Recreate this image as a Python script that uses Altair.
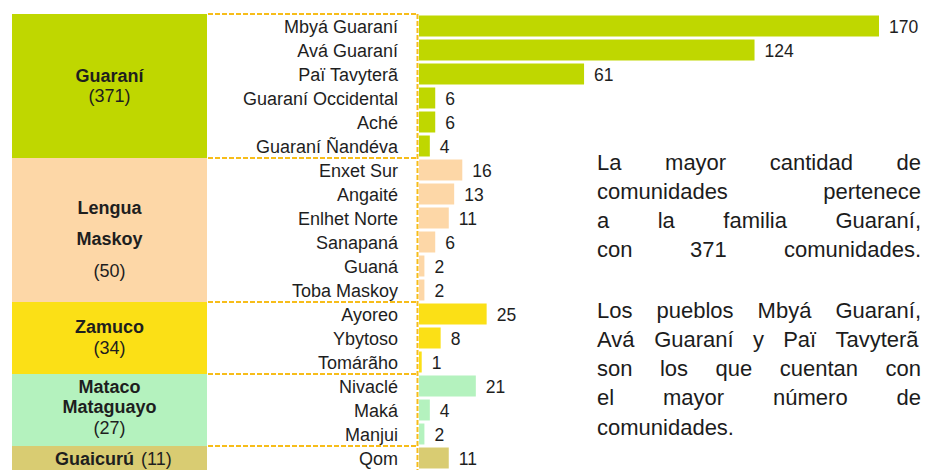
import altair as alt
import pandas as pd

# ---------------- data ----------------
families = ["Guaraní", "Lengua Maskoy", "Zamuco", "Mataco Mataguayo", "Guaicurú"]
family_totals = [371, 50, 34, 27, 11]
family_sizes = [6, 6, 3, 3, 1]

peoples = [
    "Mbyá Guaraní", "Avá Guaraní", "Paï Tavyterã", "Guaraní Occidental", "Aché", "Guaraní Ñandéva",
    "Enxet Sur", "Angaité", "Enlhet Norte", "Sanapaná", "Guaná", "Toba Maskoy",
    "Ayoreo", "Ybytoso", "Tomárãho",
    "Nivaclé", "Maká", "Manjui",
    "Qom",
]
communities = [170, 124, 61, 6, 6, 4, 16, 13, 11, 6, 2, 2, 25, 8, 1, 21, 4, 2, 11]

note1_lines = [
    "La mayor cantidad de",
    "comunidades pertenece",
    "a la familia Guaraní,",
    "con 371 comunidades.",
]
note2_lines = [
    "Los pueblos Mbyá Guaraní,",
    "Avá Guaraní y Paï Tavyterã",
    "son los que cuentan con",
    "el mayor número de",
    "comunidades.",
]

# ---------------- style / layout ----------------
family_colors = ["#BFD700", "#FDD7A7", "#FBE016", "#B4F2BE", "#D9CC72"]
DASH_COLOR = "#F7BD1A"
TEXT = "#1e1e1e"
FONT = "Liberation Sans"
W, H = 918, 462
ROW_RANGE = [6, 462]
BLOCK_X = (4, 199)
LABEL_X = 390
BAR_RANGE = [411, 871]
DASH_X = (200, 409.5)
FAM_CENTER_X = 101.5
# pixel offsets of each text line (name lines..., count) from block centre
FAM_LINE_DY = {
    "Guaraní": [-9, 11],
    "Lengua Maskoy": [-21, 10, 42],
    "Zamuco": [-10, 11],
    "Mataco Mataguayo": [-22, -2, 19],
}
INLINE_FAMILY = "Guaicurú"
INLINE_SPLIT_X = (126, 133)
INLINE_DY = 2
NOTE_SIZE = 22
NOTE_X = (589, 913)
NOTE1_Y = [155, 184, 213, 242]
NOTE2_Y = [303, 332, 361, 390, 420]

# Arial / Liberation Sans advance widths (1/1000 em)
AW = {" ": 278, ",": 278, ".": 278}
AW.update({d: 556 for d in "0123456789"})
AW.update(dict(zip("ABCDEFGHIJKLMNOPQRSTUVWXYZ",
                   [667, 667, 722, 722, 667, 611, 778, 722, 278, 500, 667, 556, 833,
                    722, 778, 667, 778, 722, 667, 611, 722, 667, 944, 667, 667, 611])))
AW.update(dict(zip("abcdefghijklmnopqrstuvwxyz",
                   [556, 556, 500, 556, 556, 278, 556, 556, 222, 222, 500, 222, 833,
                    556, 556, 556, 556, 333, 500, 278, 556, 500, 722, 500, 500, 500])))
AW.update({"á": 556, "é": 556, "í": 278, "ó": 556, "ú": 556, "ã": 556, "ï": 278, "ñ": 556})


def tw(s, size):
    return sum(AW.get(c, 556) for c in s) / 1000.0 * size


# ---------------- tables ----------------
people_family = []
for f, k in zip(families, family_sizes):
    people_family += [f] * k
df = pd.DataFrame({"people": peoples, "n": communities, "family": people_family})

starts = []
acc = 0
for k in family_sizes:
    starts.append(acc)
    acc += k
n_rows = len(peoples)
step = (ROW_RANGE[1] - ROW_RANGE[0]) / n_rows

fam_rows = []
inline_rows = []
for f, tot, s, k in zip(families, family_totals, starts, family_sizes):
    centre = s + k / 2.0
    if f == INLINE_FAMILY:
        inline_rows.append({"name": f, "count": f"({tot})", "yrow": centre + INLINE_DY / step})
        continue
    lines = f.split(" ")
    dys = FAM_LINE_DY[f]
    for ln, dy in zip(lines, dys[:-1]):
        fam_rows.append({"text": ln, "bold": True, "yrow": centre + dy / step})
    fam_rows.append({"text": f"({tot})", "bold": False, "yrow": centre + dys[-1] / step})
fam_df = pd.DataFrame(fam_rows)
inline_df = pd.DataFrame(inline_rows)
bound_df = pd.DataFrame({"b": starts})

words = []
def add_par(lines, ys, justify_last):
    for i, (ln, y) in enumerate(zip(lines, ys)):
        ws = ln.split(" ")
        widths = [tw(w, NOTE_SIZE) for w in ws]
        last = i == len(lines) - 1
        if len(ws) > 1 and (justify_last or not last):
            gap = (NOTE_X[1] - NOTE_X[0] - sum(widths)) / (len(ws) - 1)
        else:
            gap = tw(" ", NOTE_SIZE)
        x = NOTE_X[0]
        for w, wd in zip(ws, widths):
            words.append({"w": w, "px": x, "py": y})
            x += wd + gap
add_par(note1_lines, NOTE1_Y, True)
add_par(note2_lines, NOTE2_Y, False)
words_df = pd.DataFrame(words)

# ---------------- encodings ----------------
y_band = alt.Y("people:N", sort=peoples,
               scale=alt.Scale(domain=peoples, range=ROW_RANGE, paddingInner=0, paddingOuter=0),
               axis=None)
y_band_bar = alt.Y("people:N", sort=peoples,
                   scale=alt.Scale(domain=peoples, range=ROW_RANGE, paddingInner=0.125, paddingOuter=0.0625),
                   axis=None)
color = alt.Color("family:N", scale=alt.Scale(domain=families, range=family_colors), legend=None)
x_val = alt.X("n:Q", scale=alt.Scale(domain=[0, 170], range=BAR_RANGE, nice=False, zero=True), axis=None)
y_rowq = lambda f: alt.Y(f, scale=alt.Scale(domain=[0, n_rows], range=ROW_RANGE, nice=False, zero=False), axis=None)

blocks = alt.Chart(df).mark_rect().encode(
    x=alt.value(BLOCK_X[0]), x2=alt.value(BLOCK_X[1]), y=y_band, color=color)

dash_h = alt.Chart(bound_df).mark_rule(color=DASH_COLOR, strokeWidth=2, strokeDash=[5, 2]).encode(
    x=alt.value(DASH_X[0]), x2=alt.value(DASH_X[1]), y=y_rowq("b:Q"))

dash_v = alt.Chart(pd.DataFrame({"a": [0]})).mark_rule(color=DASH_COLOR, strokeWidth=2, strokeDash=[5, 2]).encode(
    x=alt.value(DASH_X[1]), y=alt.value(ROW_RANGE[0]), y2=alt.value(ROW_RANGE[1]))

labels = alt.Chart(df).mark_text(align="right", baseline="middle", dy=2, font=FONT, fontSize=18, color=TEXT).encode(
    x=alt.value(LABEL_X), y=y_band, text="people:N")

bars = alt.Chart(df).mark_bar().encode(x=x_val, y=y_band_bar, color=color)

values = alt.Chart(df).mark_text(align="left", baseline="middle", dx=10, dy=2, font=FONT, fontSize=17.5, color=TEXT).encode(
    x=x_val, y=y_band, text="n:Q")

fam_bold = alt.Chart(fam_df).transform_filter("datum.bold").mark_text(
    align="center", baseline="middle", font=FONT, fontSize=18, fontWeight="bold", color=TEXT).encode(
    x=alt.value(FAM_CENTER_X), y=y_rowq("yrow:Q"), text="text:N")
fam_reg = alt.Chart(fam_df).transform_filter("!datum.bold").mark_text(
    align="center", baseline="middle", font=FONT, fontSize=18, color=TEXT).encode(
    x=alt.value(FAM_CENTER_X), y=y_rowq("yrow:Q"), text="text:N")
inl_bold = alt.Chart(inline_df).mark_text(
    align="right", baseline="middle", font=FONT, fontSize=18, fontWeight="bold", color=TEXT).encode(
    x=alt.value(INLINE_SPLIT_X[0]), y=y_rowq("yrow:Q"), text="name:N")
inl_reg = alt.Chart(inline_df).mark_text(
    align="left", baseline="middle", font=FONT, fontSize=18, color=TEXT).encode(
    x=alt.value(INLINE_SPLIT_X[1]), y=y_rowq("yrow:Q"), text="count:N")

notes = alt.Chart(words_df).mark_text(
    align="left", baseline="middle", font=FONT, fontSize=NOTE_SIZE, color="#1c1c1c").encode(
    x=alt.X("px:Q", scale=alt.Scale(domain=[0, W], range=[0, W], nice=False, zero=False), axis=None),
    y=alt.Y("py:Q", scale=alt.Scale(domain=[0, H], range=[0, H], nice=False, zero=False), axis=None),
    text="w:N")

chart = alt.layer(
    blocks, dash_h, dash_v, bars, labels, values, fam_bold, fam_reg, inl_bold, inl_reg, notes
).resolve_scale(
    x="independent", y="independent", color="independent"
).properties(
    width=W, height=H, padding=0, autosize=alt.AutoSizeParams(type="none")
).configure_view(stroke=None)

chart.save("out.html", embed_options={"renderer": "svg", "actions": False})
